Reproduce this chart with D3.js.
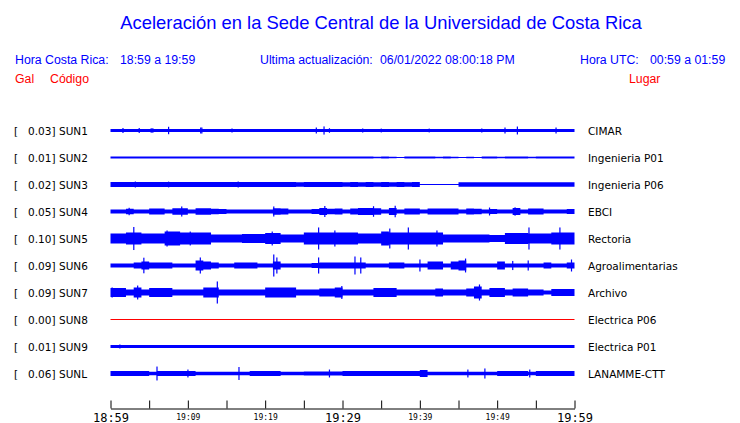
<!DOCTYPE html>
<html>
<head>
<meta charset="utf-8">
<script src="https://cdn.jsdelivr.net/npm/d3@7"></script>
<style>
  html, body { margin: 0; padding: 0; background: #ffffff; }
  svg { display: block; }
</style>
</head>
<body>
<svg id="chart" width="740" height="423"></svg>
<script>
// ---------------- DATA ----------------
const stations = ["SUN1","SUN2","SUN3","SUN4","SUN5","SUN6","SUN7","SUN8","SUN9","SUNL"];
const places = ["CIMAR","Ingenieria P01","Ingenieria P06","EBCI","Rectoria","Agroalimentarias","Archivo","Electrica P06","Electrica P01","LANAMME-CTT"];
const peakGal = ["0.03","0.01","0.02","0.05","0.10","0.09","0.09","0.00","0.01","0.06"];
const tickMinutes = [0,5,10,15,20,25,30,35,40,45,50,55,60];
const tickLabels = ["18:59","","19:09","","19:19","","19:29","","19:39","","19:49","","19:59"];
const bigTicks = ["18:59","19:29","19:59"];

// envelope (half amplitude, mGal) per minute, minutes 0..59
const envSUN1 = [13,13,13,13,13,13,13,13,13,13, 13,13,13,13,13,13,13,13,13,13, 13,13,13,13,13,13,13,13,13,13,
                 13,13,13,13,13,13,13,13,13,13, 13,13,13,13,13,13,13,13,13,13, 13,13,13,13,13,13,13,13,13,13];
const envSUN2 = [9,9,9,8,9,9,9,8,9,9, 9,8,9,9,8,9,8,9,9,8, 9,9,8,9,9,8,9,9,8,9,
                 9,8,8,9,7,8,7,5,8,9, 9,8,7,8,7,5,6,5,8,9, 7,9,8,9,7,8,9,9,8,9];
const envSUN3 = [20,21,20,20,21,20,20,21,20,20, 20,20,21,20,20,20,21,20,20,20, 21,20,20,20,19,20,20,20,20,20,
                 19,20,18,20,19,20,18,20,19,20, 0,0,0,0,0,18,19,18,19,18, 19,18,18,19,18,19,18,19,18,19];
const envSUN4 = [17,17,22,17,17,24,24,17,27,28, 17,27,27,22,21,17,17,17,17,17, 17,28,25,17,17,17,20,30,22,24,
                 17,24,30,30,28,17,30,17,25,25, 17,25,25,25,24,17,25,22,17,20, 17,17,30,17,24,24,17,17,17,21];
const envSUN5 = [42,42,50,50,42,42,42,58,58,50, 50,50,50,33,33,33,33,38,38,38, 45,45,33,33,33,50,50,50,50,50,
                 50,50,42,42,42,58,50,50,50,50, 50,50,50,33,33,33,33,33,33,29, 29,46,46,46,42,42,42,50,50,50];
const envSUN6 = [17,17,17,25,33,25,25,25,17,17, 17,42,33,25,17,17,25,25,25,17, 17,33,17,17,17,17,20,25,25,25,
                 25,25,25,17,17,17,25,25,17,17, 17,33,33,17,33,42,17,17,17,17, 33,17,17,17,17,17,25,17,17,25];
const envSUN7 = [38,38,25,42,25,38,38,38,25,25, 25,25,42,42,25,25,25,25,25,25, 42,42,42,42,25,25,25,33,33,42,
                 25,25,25,25,38,38,38,25,25,25, 25,25,33,25,25,25,33,50,25,38, 38,25,33,33,25,25,17,29,29,29];
const envSUN8 = [0,0,0,0,0,0,0,0,0,0, 0,0,0,0,0,0,0,0,0,0, 0,0,0,0,0,0,0,0,0,0,
                 0,0,0,0,0,0,0,0,0,0, 0,0,0,0,0,0,0,0,0,0, 0,0,0,0,0,0,0,0,0,0];
const envSUN9 = [12,12,12,12,12,12,12,12,12,12, 12,12,12,12,12,12,12,12,12,12, 12,12,12,12,12,12,12,12,12,12,
                 12,12,12,12,12,12,12,12,12,12, 12,12,12,12,12,12,12,12,12,12, 12,12,12,12,12,12,12,12,12,12];
const envSUNL = [21,21,21,21,21,14,21,21,21,21, 21,14,14,14,14,14,14,14,21,21, 21,21,14,14,14,17,17,17,17,17,
                 21,21,21,21,21,21,21,21,21,21, 29,14,14,14,14,14,14,14,14,14, 21,21,21,21,14,21,21,21,21,21];

// spikes: [minute, half amplitude mGal]
const spkSUN1 = [[1.6,21],[3.7,21],[5.25,19],[5.46,19],[7.5,31],[11.65,25],[11.8,25],[15.7,17],[26.6,25],[27.6,34],[28.3,19],
                 [32.6,17],[35.0,16],[41.2,16],[48.0,17],[51.0,25],[52.6,33],[57.6,25]];
const spkSUN2 = [];
const spkSUN3 = [[3.2,25],[7.5,24],[16.5,25]];
const spkSUN4 = [[2.4,31],[9.2,42],[21.1,42],[27.7,46],[34.0,44],[36.8,48],[49.0,33],[52.3,35]];
const spkSUN5 = [[3.0,96],[7.3,67],[10.3,58],[20.9,58],[26.9,92],[29.0,67],[36.1,83],[38.5,92],[42.2,67],[54.1,92],[58.1,92]];
const spkSUN6 = [[4.3,65],[11.6,67],[21.1,92],[21.5,67],[26.9,67],[31.6,75],[32.35,67],[40.0,50],[45.9,58],[52.0,38],[54.0,42],[59.6,50]];
const spkSUN7 = [[0.2,42],[3.5,58],[13.8,92],[29.9,54],[47.7,67]];
const spkSUN8 = [];
const spkSUN9 = [[1.2,17]];
const spkSUNL = [[6.0,58],[10.0,33],[16.6,54],[28.3,33],[46.2,33],[48.4,42],[54.2,33]];

const envelopes = [envSUN1,envSUN2,envSUN3,envSUN4,envSUN5,envSUN6,envSUN7,envSUN8,envSUN9,envSUNL];
const spikes = [spkSUN1,spkSUN2,spkSUN3,spkSUN4,spkSUN5,spkSUN6,spkSUN7,spkSUN8,spkSUN9,spkSUNL];

// ---------------- DRAW ----------------
const svg = d3.select("#chart");
const BLUE = "#0000ff", RED = "#ff0000";
const sans = "'Liberation Sans', Arial, Helvetica, sans-serif";
const dejavu = "'DejaVu Sans', sans-serif";

const x = d3.scaleLinear().domain([0, 60]).range([110.5, 574.5]);
const y = d3.scalePoint().domain(stations).range([130.5, 373.5]);
const amp = d3.scaleLinear().domain([0, 100]).range([0, 12]);

// title & header
svg.append("text").attr("x", 381).attr("y", 29).attr("text-anchor", "middle")
  .attr("font-family", sans).attr("font-size", 18.4).attr("fill", BLUE)
  .text("Aceleración en la Sede Central de la Universidad de Costa Rica");

const hdr = [[15, "Hora Costa Rica:"],[120, "18:59 a 19:59"],[260, "Ultima actualización:"],[380, "06/01/2022 08:00:18 PM"],
             [580, "Hora UTC:"],[650, "00:59 a 01:59"]];
svg.selectAll("text.hdr").data(hdr).enter().append("text").attr("class","hdr")
  .attr("x", d => d[0]).attr("y", 64).attr("font-family", sans).attr("font-size", 12.3).attr("fill", BLUE)
  .text(d => d[1]);

const red = [[15, "Gal"],[50, "Código"],[629, "Lugar"]];
svg.selectAll("text.red").data(red).enter().append("text").attr("class","red")
  .attr("x", d => d[0]).attr("y", 83).attr("font-family", sans).attr("font-size", 12.3).attr("fill", RED)
  .text(d => d[1]);

// rows
stations.forEach((s, i) => {
  const cy = y(s);
  const g = svg.append("g");
  g.append("text").attr("x", 14).attr("y", cy + 4).attr("font-family", dejavu).attr("font-size", 10.5).attr("fill", "#000").text("[");
  g.append("text").attr("x", 55.5).attr("y", cy + 4).attr("text-anchor", "end").attr("font-family", dejavu).attr("font-size", 10.5).attr("fill", "#000").text(peakGal[i] + "]");
  g.append("text").attr("x", 59).attr("y", cy + 4).attr("font-family", dejavu).attr("font-size", 10.5).attr("fill", "#000").text(s);
  g.append("text").attr("x", 588).attr("y", cy + 4).attr("font-family", dejavu).attr("font-size", 10.5).attr("fill", "#000").text(places[i]);

  const env = envelopes[i];
  if (d3.max(env) === 0 && spikes[i].length === 0) {
    g.append("path").attr("d", d3.line().x(d => x(d[0])).y(() => cy)([[0,0],[60,0]]))
      .attr("stroke", RED).attr("stroke-width", 1).attr("fill", "none");
    return;
  }
  const pts = env.map((v, m) => [m, v]);
  pts.push([60, env[59]]);
  const area = d3.area()
    .x(d => x(d[0]))
    .y0(d => cy + Math.max(0.5, amp(d[1])))
    .y1(d => cy - Math.max(0.5, amp(d[1])))
    .curve(d3.curveStepAfter);
  g.append("path").attr("d", area(pts)).attr("fill", BLUE);
  g.selectAll("rect.spk").data(spikes[i]).enter().append("rect").attr("class","spk")
    .attr("x", d => x(d[0]) - 0.5).attr("width", 1.2)
    .attr("y", d => cy - amp(d[1])).attr("height", d => 2 * amp(d[1]))
    .attr("fill", BLUE);
});

// time axis
const axis = d3.axisBottom(x).tickValues(tickMinutes).tickSizeInner(-8).tickSizeOuter(0)
  .tickPadding(4).tickFormat((d, i) => tickLabels[i]);
const ax = svg.append("g").attr("transform", "translate(0,408.5)").call(axis);
ax.select(".domain").attr("stroke", "#000");
ax.selectAll(".tick line").attr("stroke", "#000");
ax.selectAll(".tick text")
  .attr("font-family", "'DejaVu Sans Mono', monospace")
  .attr("fill", "#000")
  .attr("font-size", d => bigTicks.includes(tickLabels[tickMinutes.indexOf(d)]) ? 12 : 8)
  .attr("dy", null)
  .attr("y", d => bigTicks.includes(tickLabels[tickMinutes.indexOf(d)]) ? 13 : 11.5);
</script>
</body>
</html>
